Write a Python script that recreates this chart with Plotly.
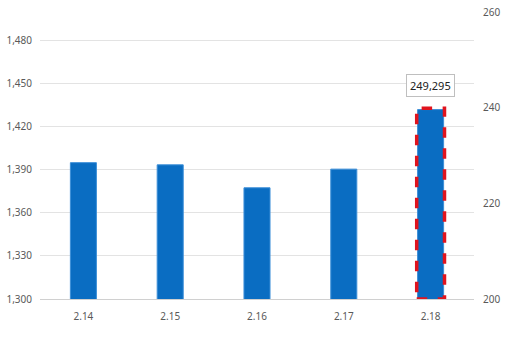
import plotly.graph_objects as go

categories = ["2.14", "2.15", "2.16", "2.17", "2.18"]
values = [1395, 1393.5, 1377.5, 1390.5, 1432]
highlight_index = 4
highlight_label = "249,295"
left_ticks = [1300, 1330, 1360, 1390, 1420, 1450, 1480]
right_ticks = [200, 220, 240, 260]

bar_color = "#0A6DC2"
tick_color = "#595959"
bar_width = 0.30

fig = go.Figure()
fig.add_trace(go.Bar(
    x=categories, y=values, width=bar_width,
    marker=dict(color=bar_color, line=dict(color="#3C8FD8", width=1)),
    showlegend=False, hoverinfo="skip",
))
# invisible trace to activate right axis
fig.add_trace(go.Scatter(
    x=categories, y=[None] * len(categories), yaxis="y2",
    mode="markers", showlegend=False, hoverinfo="skip",
))

hv = values[highlight_index]
fig.add_shape(
    type="rect", xref="x", yref="y",
    x0=highlight_index - bar_width / 2 - 0.01, x1=highlight_index + bar_width / 2 + 0.01,
    y0=1300, y1=hv + 1,
    line=dict(color="#E0141E", width=3.5, dash="dash"),
)
fig.add_annotation(
    x=highlight_index, y=hv, yref="y", xref="x",
    text=highlight_label, showarrow=False, yshift=24,
    font=dict(family="Noto Sans, sans-serif", size=11, color="#222222"),
    bgcolor="white", bordercolor="#BFBFBF", borderwidth=1, borderpad=3,
)

fig.update_layout(
    width=520, height=346,
    margin=dict(l=40, r=46, t=12, b=47),
    paper_bgcolor="white", plot_bgcolor="white",
    font=dict(family="Noto Sans, sans-serif", size=10, color=tick_color),
    bargap=0.7,
    xaxis=dict(
        type="category", showgrid=False, showline=True, linecolor="#D0D0D0",
        linewidth=1, ticks="", tickfont=dict(size=10, color=tick_color),
        range=[-0.5, 4.5], automargin=False, ticklabelstandoff=8,
    ),
    yaxis=dict(
        range=[1300, 1500], tickvals=left_ticks, tickformat=",",
        showgrid=True, gridcolor="#E3E3E3", gridwidth=1, zeroline=False,
        showline=False, ticks="", ticklabelstandoff=7, automargin=False,
        tickfont=dict(size=10, color=tick_color),
    ),
    yaxis2=dict(
        range=[200, 260], tickvals=right_ticks, overlaying="y", side="right",
        showgrid=False, zeroline=False, showline=False, ticks="",
        ticklabelstandoff=8, automargin=False,
        tickfont=dict(size=10, color=tick_color),
    ),
)

fig.write_html("out.html")
